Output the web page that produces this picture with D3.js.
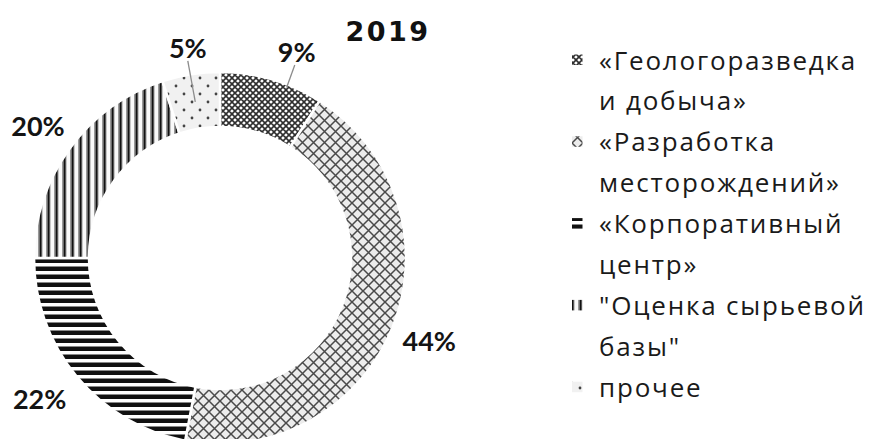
<!DOCTYPE html>
<html>
<head>
<meta charset="utf-8">
<script src="https://cdn.jsdelivr.net/npm/d3@7"></script>
<style>
  html, body { margin: 0; padding: 0; background: #fff; }
  svg { display: block; }
</style>
</head>
<body>
<svg id="chart" width="875" height="439"></svg>
<script>
// Structure of spending, 2019
const title = "2019";
const categories = [
  "«Геологоразведка и добыча»",
  "«Разработка месторождений»",
  "«Корпоративный центр»",
  "\"Оценка сырьевой базы\"",
  "прочее"
];
const values = [9, 44, 22, 20, 5];
const legendLines = [
  ["«Геологоразведка", "и добыча»"],
  ["«Разработка", "месторождений»"],
  ["«Корпоративный", "центр»"],
  ["\"Оценка сырьевой", "базы\""],
  ["прочее"]
];

// Fill patterns, one per category (same order)
const patternIds = ["p-geo", "p-razr", "p-korp", "p-ocen", "p-proch"];

const svg = d3.select("#chart");
const defs = svg.append("defs");

function pattern(id, w, h) {
  return defs.append("pattern")
    .attr("id", id)
    .attr("patternUnits", "userSpaceOnUse")
    .attr("width", w).attr("height", h);
}

// dense diagonal lattice
{
  const p = pattern("p-geo", 6, 6);
  p.append("rect").attr("width", 6).attr("height", 6).attr("fill", "#fff");
  p.append("path").attr("d", "M0,0L6,6M6,0L0,6M-3,3L3,-3M3,9L9,3M-3,3L3,9M3,-3L9,3")
    .attr("stroke", "#2e2e2e").attr("stroke-width", 1.6);
}
// open diagonal lattice on light grey
{
  const p = pattern("p-razr", 11, 11);
  p.append("rect").attr("width", 11).attr("height", 11).attr("fill", "#ececec");
  p.append("path").attr("d", "M0,0L11,11M11,0L0,11")
    .attr("stroke", "#4a4a4a").attr("stroke-width", 1.5);
}
// horizontal bars
{
  const p = pattern("p-korp", 8, 8);
  p.append("rect").attr("width", 8).attr("height", 8).attr("fill", "#fff");
  p.append("rect").attr("y", 0.5).attr("width", 8).attr("height", 4.5).attr("fill", "#111");
}
// vertical bars
{
  const p = pattern("p-ocen", 8, 8);
  p.append("rect").attr("width", 8).attr("height", 8).attr("fill", "#fafafa");
  p.append("rect").attr("x", 2).attr("width", 1.5).attr("height", 8).attr("fill", "#999");
  p.append("rect").attr("x", 3.5).attr("width", 2.3).attr("height", 8).attr("fill", "#111");
  p.append("rect").attr("x", 5.8).attr("width", 1).attr("height", 8).attr("fill", "#bbb");
}
// sparse dots on light grey
{
  const p = pattern("p-proch", 16, 16);
  p.append("rect").attr("width", 16).attr("height", 16).attr("fill", "#f1f1f1");
  p.append("circle").attr("cx", 4).attr("cy", 4).attr("r", 1.4).attr("fill", "#444");
  p.append("circle").attr("cx", 12).attr("cy", 12).attr("r", 1.4).attr("fill", "#444");
}

// Donut
const cx = 220, cy = 258;
const outerR = 186, innerR = 131;

const pie = d3.pie().sort(null).value(d => d)(values);
const arc = d3.arc().innerRadius(innerR).outerRadius(outerR);

const g = svg.append("g").attr("transform", `translate(${cx},${cy})`);
g.selectAll("path.slice")
  .data(pie)
  .join("path")
  .attr("class", "slice")
  .attr("d", arc)
  .attr("fill", (d, i) => `url(#${patternIds[i]})`)
  .attr("stroke", "#fff")
  .attr("stroke-width", 2.5);

// Value labels: outside the ring; the two thin slices are nudged and get a leader
const labelR = 225;
const labelNudge = [[14, 10], [0, 0], [-7, -3], [0, 0], [3, 12]];
const leaderR = [183, null, null, null, 158];
const leaderAngleShift = [0.09, 0, 0, 0, 0];

function polar(r, a) { return [r * Math.sin(a), -r * Math.cos(a)]; }

pie.forEach((d, i) => {
  const mid = (d.startAngle + d.endAngle) / 2;
  const [lx0, ly0] = polar(labelR, mid);
  const lx = lx0 + labelNudge[i][0], ly = ly0 + labelNudge[i][1];
  if (leaderR[i]) {
    const [ex, ey] = polar(leaderR[i], mid + leaderAngleShift[i]);
    g.append("line")
      .attr("x1", lx - (i === 0 ? 2 : 0)).attr("y1", ly + 13)
      .attr("x2", ex).attr("y2", ey)
      .attr("stroke", "#8c8c8c").attr("stroke-width", 1.3);
  }
  g.append("text")
    .attr("x", lx).attr("y", ly)
    .attr("text-anchor", "middle")
    .attr("dominant-baseline", "central")
    .attr("font-family", "Lato, 'Open Sans', sans-serif")
    .attr("font-weight", 700)
    .attr("font-size", 27)
    .attr("fill", "#141414")
    .text(d.data + "%");
});

// Title
svg.append("text")
  .attr("x", 388).attr("y", 41)
  .attr("text-anchor", "middle")
  .attr("font-family", "'DejaVu Sans', sans-serif")
  .attr("font-weight", 700)
  .attr("font-size", 27)
  .attr("letter-spacing", 2.5)
  .attr("fill", "#111")
  .text(title);

// Legend
const legend = svg.append("g").attr("class", "legend");
const lineH = 40.9;
let line = 0;
legendLines.forEach((lines, i) => {
  const base = 69.5 + line * lineH;
  legend.append("rect")
    .attr("x", 572).attr("y", base - 15)
    .attr("width", 10.5).attr("height", 10.5)
    .attr("fill", `url(#${patternIds[i]})`);
  lines.forEach((t, k) => {
    legend.append("text")
      .attr("x", 599).attr("y", base + k * lineH)
      .attr("font-family", "'Open Sans', sans-serif")
      .attr("font-size", 26)
      .attr("letter-spacing", 1.8)
      .attr("fill", "#1a1a1a")
      .text(t);
  });
  line += lines.length;
});
</script>
</body>
</html>
